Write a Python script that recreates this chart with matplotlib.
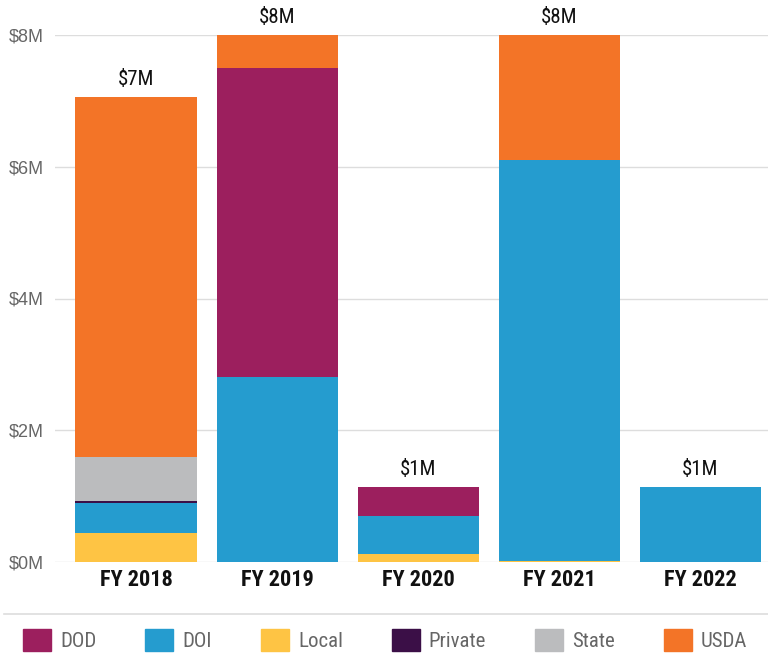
import matplotlib.pyplot as plt
import numpy as np
from matplotlib.lines import Line2D
from matplotlib.patches import Patch

years = ["FY 2018", "FY 2019", "FY 2020", "FY 2021", "FY 2022"]
totals = ["$7M", "$8M", "$1M", "$8M", "$1M"]

# values in $M, stacked bottom to top: Local, DOI, Private, State, DOD, USDA
local = [0.44, 0.0, 0.12, 0.01, 0.0]
doi = [0.46, 2.81, 0.58, 6.09, 1.14]
private = [0.03, 0.0, 0.0, 0.0, 0.0]
state = [0.66, 0.0, 0.0, 0.0, 0.0]
dod = [0.0, 4.69, 0.44, 0.0, 0.0]
usda = [5.47, 0.55, 0.0, 1.95, 0.0]

colors = {"DOD": "#9c1f5e", "DOI": "#259ccf", "Local": "#fec444",
          "Private": "#3b0f47", "State": "#bbbcbe", "USDA": "#f37427"}

narrow = ["Roboto Condensed", "DejaVu Sans"]
plt.rcParams['font.family'] = ["Liberation Sans", "DejaVu Sans"]

fig = plt.figure(figsize=(7.68, 6.53), dpi=100)
ax = fig.add_axes([55 / 768, 1 - 562 / 653, 1 - 55 / 768, (562 - 35) / 653])

x = np.arange(len(years))
w = 0.86
bottom = np.zeros(len(years))
for name, vals in [("Local", local), ("DOI", doi), ("Private", private),
                   ("State", state), ("DOD", dod), ("USDA", usda)]:
    ax.bar(x, vals, w, bottom=bottom, color=colors[name], zorder=3)
    bottom += np.array(vals)

for i, t in enumerate(totals):
    top = min(bottom[i], 8)
    ax.text(x[i], top + 0.12, t, ha="center", va="bottom", fontsize=15,
            color="#111111", family=narrow, clip_on=False)

ax.set_ylim(0, 8)
ax.set_xlim(-0.575, 4.48)
ax.set_yticks([0, 2, 4, 6, 8])
ax.set_yticklabels(["$0M", "$2M", "$4M", "$6M", "$8M"], fontsize=13, color="#666666")
ax.set_xticks(x)
ax.set_xticklabels(years, fontsize=16, fontweight="bold", color="#111111", family=narrow)
ax.tick_params(axis="y", length=0, pad=8)
ax.tick_params(axis="x", length=0, pad=5)
ax.grid(axis="y", color="#dddddd", linewidth=1, zorder=0)
for s in ax.spines.values():
    s.set_visible(False)

fig.add_artist(Line2D([4 / 768, 1], [1 - 614 / 653] * 2, color="#dddddd", linewidth=1.2))

handles = [Patch(color=colors[n]) for n in ["DOD", "DOI", "Local", "Private", "State", "USDA"]]
leg = fig.legend(handles, ["DOD", "DOI", "Local", "Private", "State", "USDA"],
                 loc="center left", bbox_to_anchor=(23 / 768, 1 - 640 / 653), ncol=6,
                 frameon=False, prop={"family": narrow, "size": 15},
                 handlelength=1.35, handleheight=1.3, borderpad=0, borderaxespad=0,
                 handletextpad=0.43, columnspacing=2.35, labelcolor="#666666")

fig.savefig("out.png", dpi=100)
